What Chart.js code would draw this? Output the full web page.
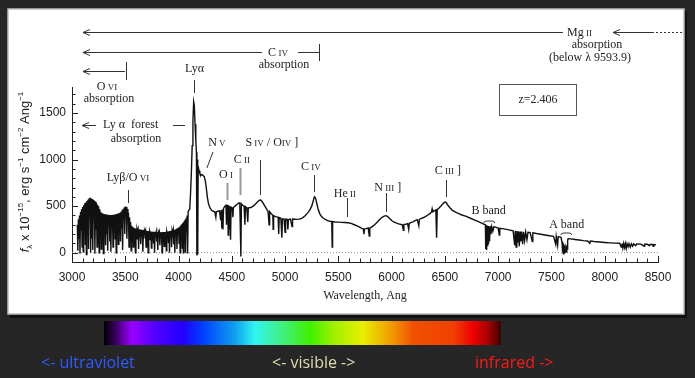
<!DOCTYPE html>
<html>
<head>
<meta charset="utf-8">
<script src="https://cdn.jsdelivr.net/npm/chart.js@4"></script>
<style>
  body { margin: 0; background: #262626; }
  canvas { display: block; }
</style>
</head>
<body>
<canvas id="c" width="695" height="378"></canvas>
<script>
// tick labels
const xTickValues = [3000, 3500, 4000, 4500, 5000, 5500, 6000, 6500, 7000, 7500, 8000, 8500];
const yTickValues = [0, 500, 1000, 1500];
const minorStep = 100;

// Lyman alpha forest, sampled every 5 Ang from 3050 (one row = 100 Ang)
const forestStart = 3050, forestStep = 5;
const forestFlux = [
  300, 20, 360, 150, 400, -10, 440, 250, 470, 60, 490, 10, 510, 300, 530, 90, 540, -20, 555,
  200, 570, 40, 585, 380, 590, 0, 580, 150, 575, 30, 565, 420, 555, -10, 545, 250, 530, 60, 515,
  100, 500, 0, 470, 320, 440, 40, 425, 180, 420, -10, 415, 300, 412, 80, 410, 200, 408, 20, 406,
  340, 405, 120, 404, 10, 405, 260, 406, 60, 408, 300, 410, 150, 412, 0, 415, 220, 420, 90, 425,
  350, 430, 120, 440, 260, 455, 30, 470, 380, 485, 200, 495, 420, 490, 150, 470, 380, 430, 60, 380,
  250, 330, 20, 290, 180, 275, 60, 268, 210, 262, 0, 258, 150, 255, 230, 252, 40, 250, 170, 248,
  90, 246, 200, 244, 10, 242, 150, 240, 220, 238, 60, 236, 180, 234, 0, 232, 140, 230, 210, 228,
  50, 226, 170, 225, 100, 224, 0, 223, 190, 222, 120, 222, 30, 221, 200, 221, 80, 220, 160, 220,
  0, 221, 190, 222, 70, 223, 150, 224, 20, 226, 200, 228, 110, 230, 0, 232, 170, 235, 60, 238,
  210, 242, 90, 246, 0, 250, 180, 256, 40, 262, 220, 270, 100, 280, 0, 292, 200, 305, 50, 320,
  0, 335, 150, 350, 0, 370, 220, 400, -10, 440
];

// rest of the spectrum: [wavelength Ang, flux]
const specPoints = [
  [4105, 470], [4112, 620], [4120, 850], [4128, 1150], [4135, 1420], [4142, 1620], [4148, 1580], [4155, 1380],
  [4162, 1200], [4168, 1080], [4172, -30], [4176, 1000], [4180, -20], [4184, 930], [4192, 880], [4200, 850],
  [4210, 830], [4220, 840], [4230, 830], [4240, 820], [4250, 780], [4260, 700], [4270, 600], [4280, 530],
  [4295, 480], [4310, 455], [4325, 445], [4340, 440], [4350, 380], [4355, 440], [4370, 445], [4385, 450],
  [4395, 350], [4400, 455], [4406, 260], [4410, 465], [4417, 250], [4422, 475], [4435, 500], [4445, 510],
  [4450, 300], [4455, 505], [4462, 515], [4466, 190], [4470, 510], [4475, 260], [4480, 500], [4488, 140],
  [4493, 490], [4505, 480], [4510, 380], [4515, 485], [4530, 500], [4550, 520], [4565, 535], [4575, 535],
  [4585, -40], [4590, 525], [4602, 510], [4615, 500], [4623, 300], [4628, 495], [4640, 485], [4650, 330],
  [4655, 482], [4680, 485], [4700, 500], [4720, 520], [4740, 545], [4755, 560], [4768, 567], [4780, 555],
  [4795, 530], [4810, 500], [4825, 470], [4840, 445], [4850, 300], [4855, 440], [4870, 420], [4885, 400],
  [4888, 250], [4892, 398], [4910, 388], [4935, 380], [4940, 200], [4945, 378], [4960, 370], [4970, 160],
  [4975, 365], [4990, 362], [5000, 220], [5005, 360], [5020, 357], [5026, 250], [5032, 356], [5050, 360],
  [5065, 280], [5070, 362], [5090, 360], [5110, 358], [5130, 360], [5150, 365], [5170, 380], [5190, 400],
  [5210, 425], [5230, 455], [5250, 500], [5265, 560], [5275, 600], [5285, 590], [5295, 540], [5310, 470],
  [5325, 420], [5340, 390], [5360, 370], [5380, 355], [5400, 345], [5420, 338], [5438, 335], [5442, 60],
  [5446, 334], [5470, 330], [5500, 328], [5530, 326], [5560, 324], [5590, 322], [5620, 315], [5650, 300],
  [5680, 285], [5700, 275], [5720, 262], [5735, 255], [5740, 200], [5745, 255], [5760, 258], [5780, 265],
  [5790, 180], [5795, 265], [5810, 275], [5830, 290], [5850, 310], [5870, 335], [5890, 360], [5910, 380],
  [5930, 392], [5946, 398], [5960, 390], [5980, 370], [6000, 345], [6020, 330], [6040, 320], [6060, 312],
  [6080, 305], [6100, 300], [6110, 240], [6115, 302], [6130, 305], [6150, 312], [6160, 250], [6165, 314],
  [6180, 322], [6200, 332], [6220, 345], [6240, 355], [6255, 290], [6260, 358], [6280, 368], [6300, 378],
  [6320, 390], [6340, 405], [6360, 420], [6375, 440], [6380, 470], [6385, 440], [6400, 450], [6415, 460],
  [6422, 160], [6428, 462], [6445, 480], [6465, 505], [6485, 530], [6500, 545], [6510, 540], [6525, 515],
  [6545, 485], [6570, 455], [6600, 435], [6630, 420], [6660, 405], [6700, 390], [6740, 370], [6780, 350],
  [6820, 330], [6850, 315], [6870, 305], [6880, 300], [6883, 40], [6886, 295], [6889, 30], [6892, 292],
  [6895, 60], [6898, 290], [6901, 70], [6904, 288], [6907, 100], [6910, 286], [6914, 130], [6918, 285],
  [6922, 160], [6926, 283], [6932, 200], [6940, 280], [6950, 230], [6960, 278], [6975, 275], [7000, 265],
  [7010, 190], [7015, 263], [7040, 258], [7080, 250], [7110, 243], [7140, 236], [7155, 80], [7160, 234],
  [7168, 60], [7175, 232], [7182, 110], [7190, 230], [7198, 70], [7205, 228], [7212, 120], [7220, 226],
  [7230, 90], [7238, 224], [7248, 130], [7258, 222], [7270, 140], [7280, 220], [7300, 216], [7320, 120],
  [7325, 214], [7360, 206], [7400, 198], [7440, 190], [7480, 182], [7520, 175], [7540, 90], [7545, 174],
  [7558, 80], [7563, 172], [7590, 165], [7600, 100], [7603, 10], [7606, 120], [7609, -5], [7612, 100],
  [7615, -10], [7618, 80], [7621, -10], [7624, 60], [7627, 0], [7630, 50], [7633, 0], [7636, 60],
  [7640, 10], [7644, 80], [7648, 40], [7652, 130], [7656, 150], [7680, 148], [7720, 142], [7760, 136],
  [7800, 130], [7840, 126], [7860, 100], [7865, 125], [7900, 120], [7950, 115], [8000, 110], [8050, 106],
  [8100, 103], [8140, 101], [8155, 60], [8162, 100], [8170, 50], [8178, 99], [8186, 55], [8194, 98],
  [8202, 45], [8210, 97], [8220, 65], [8228, 96], [8240, 60], [8250, 95], [8262, 70], [8272, 94],
  [8290, 75], [8300, 93], [8340, 92], [8370, 70], [8375, 91], [8400, 90], [8420, 75], [8425, 89],
  [8450, 88], [8455, 70], [8460, 87], [8480, 86]
];

const spectrum = forestFlux.map((f, i) => ({ x: forestStart + i * forestStep, y: f }))
  .concat(specPoints.map(p => ({ x: p[0], y: p[1] })));
const zeroLevel = [{ x: 3000, y: 0 }, { x: 8500, y: 0 }];

// emission line labels: text parts, text wavelength, marker wavelength
const lineLabels = [
  { parts: [["Ly", 12], ["β", 12], ["/O", 12], [" VI", 9]], tw: 3525, ty: 177, mw: 3521, m: [190, 203] },
  { parts: [["O", 12], [" I", 9]], tw: 4445, ty: 174, mw: 4454, m: [183, 200], gray: true },
  { parts: [["C", 12], [" II", 9]], tw: 4595, ty: 159, mw: 4576, m: [168, 195], gray: true },
  { parts: [["S", 12], [" IV", 9], [" / O", 12], ["IV", 9], [" ]", 12]], tw: 4876, ty: 142, mw: 4764, m: [160, 195] },
  { parts: [["C", 12], [" IV", 9]], tw: 5242, ty: 166, mw: 5270, m: [175, 192] },
  { parts: [["He", 12], [" II", 9]], tw: 5561, ty: 193, mw: 5580, m: [198, 217] },
  { parts: [["N", 12], [" III", 9], [" ]", 12]], tw: 5964, ty: 187, mw: 5945, m: [193, 212] },
  { parts: [["C", 12], [" III", 9], [" ]", 12]], tw: 6527, ty: 170, mw: 6508, m: [180, 197] },
  { parts: [["Ly", 12], ["α", 12]], tw: 4150, ty: 68, mw: 4142, m: [80, 93] }
];
const bandLabels = [
  { text: "B band", tw: 6911, ty: 211, w0: 6865, w1: 6968, by: 221 },
  { text: "A band", tw: 7643, ty: 225, w0: 7587, w1: 7690, by: 233 }
];

const serif = "'Liberation Serif', 'DejaVu Serif', serif";
const sans = "'Liberation Sans', Arial, sans-serif";

function drawParts(ctx, parts, x, y, align, family) {
  let total = 0;
  const widths = parts.map(p => {
    ctx.font = (p[2] || "") + " " + p[1] + "px " + family;
    const w = ctx.measureText(p[0]).width;
    total += w;
    return w;
  });
  let cx = align === "center" ? x - total / 2 : x;
  ctx.textAlign = "left";
  ctx.textBaseline = "alphabetic";
  parts.forEach((p, i) => {
    ctx.font = (p[2] || "") + " " + p[1] + "px " + family;
    ctx.fillText(p[0], cx, y + 4 + (p[3] || 0));
    cx += widths[i];
  });
}

function arrowLeft(ctx, x0, x1, y) {
  ctx.beginPath();
  ctx.moveTo(x1, y); ctx.lineTo(x0, y);
  ctx.moveTo(x0 + 7, y - 3); ctx.lineTo(x0, y); ctx.lineTo(x0 + 7, y + 3);
  ctx.stroke();
}

function text(ctx, s, x, y, size, align) {
  ctx.font = size + "px " + serif;
  ctx.textAlign = align || "center";
  ctx.textBaseline = "middle";
  ctx.fillText(s, x, y);
}

const panelPlugin = {
  id: "panel",
  beforeDraw(chart) {
    const ctx = chart.ctx;
    ctx.save();
    ctx.fillStyle = "#262626";
    ctx.fillRect(0, 0, 695, 378);
    ctx.fillStyle = "#111";
    ctx.fillRect(10, 11, 677, 307);
    ctx.fillStyle = "#fff";
    ctx.fillRect(8, 9, 676, 305);
    ctx.strokeStyle = "#bdbdbd";
    ctx.lineWidth = 1.5;
    ctx.strokeRect(8, 9, 676, 305);
    ctx.restore();
  },
  afterDraw(chart) {
    const ctx = chart.ctx, xs = chart.scales.x, ys = chart.scales.y, a = chart.chartArea;
    ctx.save();
    ctx.strokeStyle = "#222";
    ctx.lineWidth = 1;
    // inward ticks
    ctx.beginPath();
    for (let v = xs.min; v <= xs.max; v += minorStep) {
      const px = Math.round(xs.getPixelForValue(v)) + 0.5;
      const len = v % 500 === 0 ? 6 : 3.5;
      ctx.moveTo(px, a.bottom); ctx.lineTo(px, a.bottom - len);
    }
    for (let v = -100; v <= 1700; v += minorStep) {
      const py = Math.round(ys.getPixelForValue(v)) + 0.5;
      const len = v % 500 === 0 ? 6 : 3.5;
      ctx.moveTo(a.left, py); ctx.lineTo(a.left + len, py);
    }
    ctx.stroke();

    ctx.fillStyle = "#222";
    // line labels with markers
    lineLabels.forEach(l => {
      drawParts(ctx, l.parts, xs.getPixelForValue(l.tw), l.ty, "center", serif);
      const mx = Math.round(xs.getPixelForValue(l.mw)) + 0.5;
      ctx.strokeStyle = l.gray ? "#9a9a9a" : "#333";
      ctx.lineWidth = l.gray ? 2 : 1;
      ctx.beginPath(); ctx.moveTo(mx, l.m[0]); ctx.lineTo(mx, l.m[1]); ctx.stroke();
    });
    ctx.strokeStyle = "#333"; ctx.lineWidth = 1;
    // N V with slash pointer
    drawParts(ctx, [["N", 12], [" V", 9]], xs.getPixelForValue(4360), 142, "center", serif);
    ctx.beginPath();
    ctx.moveTo(xs.getPixelForValue(4323), 152); ctx.lineTo(xs.getPixelForValue(4266), 168);
    ctx.stroke();
    // atmospheric bands
    bandLabels.forEach(b => {
      text(ctx, b.text, xs.getPixelForValue(b.tw), b.ty, 12);
      const x0 = xs.getPixelForValue(b.w0), x1 = xs.getPixelForValue(b.w1);
      ctx.beginPath();
      ctx.moveTo(x0, b.by + 2); ctx.quadraticCurveTo(x0, b.by, x0 + 3, b.by);
      ctx.lineTo(x1 - 3, b.by); ctx.quadraticCurveTo(x1, b.by, x1, b.by + 2);
      ctx.stroke();
    });

    // absorption arrows at top
    arrowLeft(ctx, 83, 563, 32.5);
    drawParts(ctx, [["Mg", 12], [" II", 9]], 567, 32, "left", serif);
    arrowLeft(ctx, 613, 652, 32.5);
    ctx.setLineDash([2, 2]);
    ctx.beginPath(); ctx.moveTo(652, 32.5); ctx.lineTo(683, 32.5); ctx.stroke();
    ctx.setLineDash([]);
    text(ctx, "absorption", 597, 45, 12);
    text(ctx, "(below \u03bb 9593.9)", 590, 58, 12);

    arrowLeft(ctx, 83, 262, 52.5);
    drawParts(ctx, [["C", 12], [" IV", 9]], 278, 52, "center", serif);
    ctx.beginPath();
    ctx.moveTo(298, 52.5); ctx.lineTo(319, 52.5);
    ctx.moveTo(319.5, 44); ctx.lineTo(319.5, 61);
    ctx.stroke();
    text(ctx, "absorption", 284, 65, 12);

    arrowLeft(ctx, 83, 125, 71.5);
    ctx.beginPath(); ctx.moveTo(126.5, 62); ctx.lineTo(126.5, 80); ctx.stroke();
    drawParts(ctx, [["O", 12], [" VI", 9]], 107, 86, "center", serif);
    text(ctx, "absorption", 109, 99, 12);

    arrowLeft(ctx, 82, 96, 125.5);
    text(ctx, "Ly \u03b1  forest", 103, 125, 12, "left");
    ctx.beginPath(); ctx.moveTo(173, 125.5); ctx.lineTo(185, 125.5); ctx.stroke();
    text(ctx, "absorption", 136, 139, 12);

    // redshift box
    ctx.strokeStyle = "#555";
    ctx.strokeRect(499.5, 84.5, 77, 31);
    text(ctx, "z=2.406", 538, 100, 12);

    // axis titles
    text(ctx, "Wavelength, Ang", 365, 296, 12);
    ctx.save();
    ctx.translate(25, 172);
    ctx.rotate(-Math.PI / 2);
    const yParts = [["f", 13, "italic"], ["\u03bb", 8, "", 3], [" x 10", 13], ["\u221215", 8, "", -6],
      [", erg s", 13], ["\u22121", 8, "", -6], [" cm", 13], ["\u22122", 8, "", -6], [" Ang", 13], ["\u22121", 8, "", -6]];
    drawParts(ctx, yParts, 0, 0, "center", sans);
    ctx.restore();

    // colour bar
    const g = ctx.createLinearGradient(104, 0, 501, 0);
    [[0, "#000000"], [0.03, "#3a0060"], [0.07, "#9a00ff"], [0.13, "#5000ff"], [0.2, "#2200ff"],
     [0.25, "#0040ff"], [0.33, "#10a0f0"], [0.38, "#30f4f0"], [0.45, "#40f080"], [0.52, "#40f000"],
     [0.58, "#a0f000"], [0.65, "#e8f000"], [0.72, "#f0a000"], [0.78, "#f05000"], [0.88, "#f04000"],
     [0.93, "#f00000"], [0.97, "#a00000"], [1, "#400000"]].forEach(s => g.addColorStop(s[0], s[1]));
    ctx.fillStyle = g;
    ctx.fillRect(104, 321, 397, 24);

    ctx.font = "16px 'Open Sans', sans-serif";
    ctx.textBaseline = "middle";
    ctx.textAlign = "left";
    ctx.fillStyle = "#2e5bff";
    ctx.fillText("<- ultraviolet", 41, 363);
    ctx.fillStyle = "#dcdcb0";
    ctx.fillText("<- visible ->", 272, 363);
    ctx.fillStyle = "#ff1a1a";
    ctx.fillText("infrared ->", 475, 363);
    ctx.restore();
  }
};

new Chart(document.getElementById("c"), {
  type: "line",
  data: {
    datasets: [
      { data: spectrum, borderColor: "#111", borderWidth: 1.4, pointRadius: 0, tension: 0 },
      { data: zeroLevel, borderColor: "#888", borderWidth: 1, borderDash: [1, 2], pointRadius: 0 }
    ]
  },
  options: {
    responsive: false,
    animation: false,
    devicePixelRatio: 1,
    layout: { padding: { left: 0, right: 37, top: 87, bottom: 80 } },
    plugins: { legend: { display: false }, tooltip: { enabled: false } },
    scales: {
      x: {
        type: "linear", min: 3000, max: 8500,
        afterBuildTicks: s => { s.ticks = xTickValues.map(v => ({ value: v })); },
        afterFit: s => { s.height = 36; },
        grid: { display: false, drawTicks: false },
        border: { color: "#222", width: 1 },
        ticks: { color: "#222", font: { family: sans, size: 12 }, padding: 8, maxRotation: 0, autoSkip: false, callback: v => String(v) }
      },
      y: {
        type: "linear", min: -100, max: 1780,
        afterBuildTicks: s => { s.ticks = yTickValues.map(v => ({ value: v })); },
        afterFit: s => { s.width = 72; },
        grid: { display: false, drawTicks: false },
        border: { color: "#222", width: 1 },
        ticks: { color: "#222", font: { family: sans, size: 12 }, padding: 6, callback: v => String(v) }
      }
    }
  },
  plugins: [panelPlugin]
});
</script>
</body>
</html>
